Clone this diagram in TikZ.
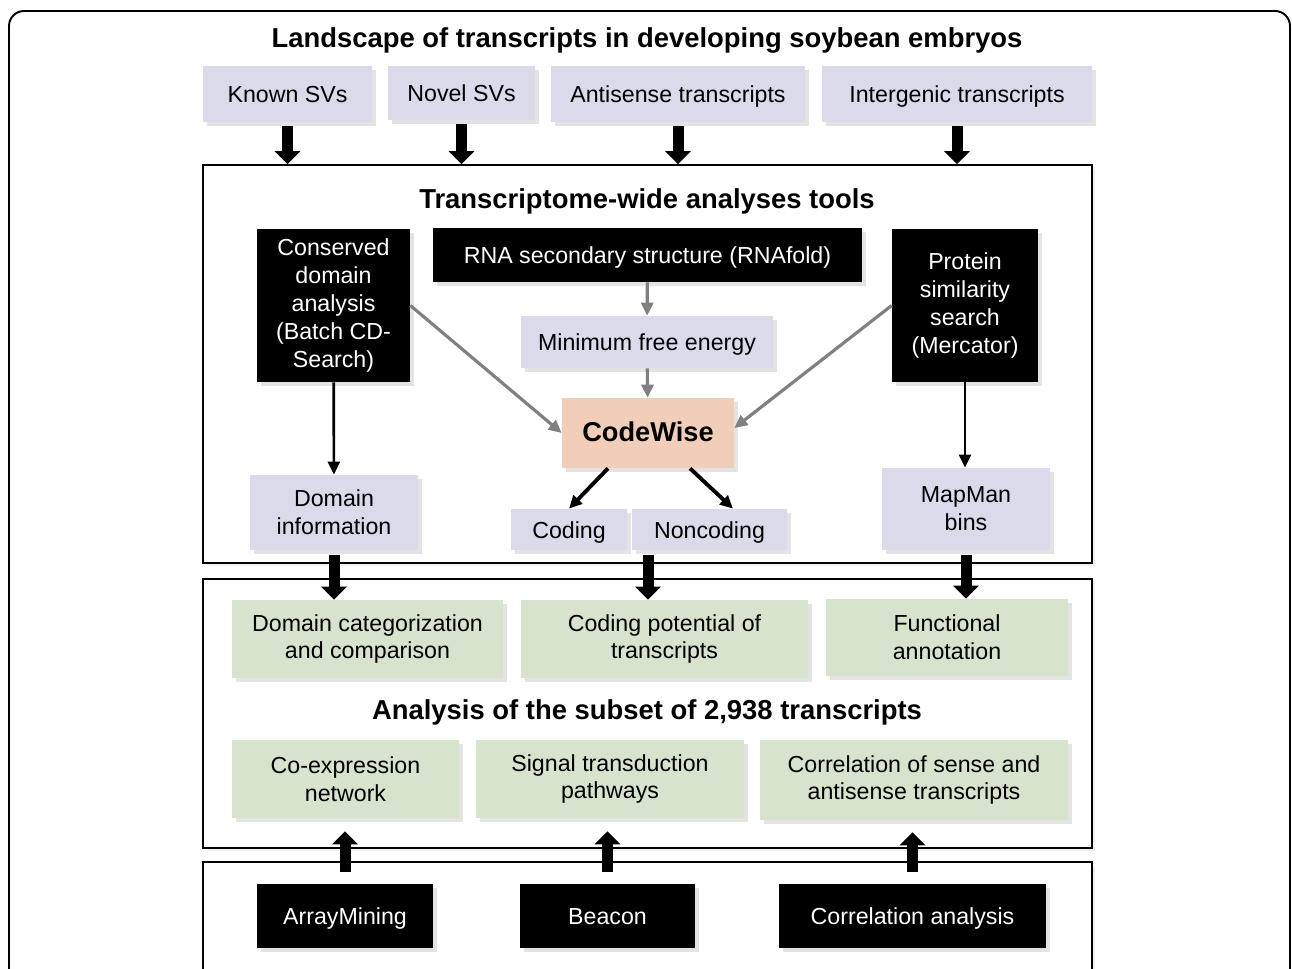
\documentclass[tikz,border=0pt]{standalone}
\usepackage{fontspec}
\setmainfont{Liberation Sans}
\usetikzlibrary{positioning, arrows.meta, shadows}

\definecolor{lavbox}{RGB}{218,218,234}
\definecolor{grnbox}{RGB}{215,227,204}
\definecolor{cwbox}{RGB}{241,206,186}
\definecolor{grayarrow}{RGB}{128,128,128}

\begin{document}
\begin{tikzpicture}[
  x=0.02cm, y=-0.02cm,
  font=\fontsize{13.2}{15.9}\selectfont,
  shade/.style ={drop shadow={shadow xshift=2.5pt, shadow yshift=-2.5pt, opacity=0.22}},
  lav/.style   ={fill=lavbox, align=center, inner sep=2pt, shade},
  grn/.style   ={fill=grnbox, align=center, inner sep=2pt, shade},
  tool/.style  ={fill=black, text=white, align=center, inner sep=2pt, shade},
  oneline/.style={text height=1.0em, text depth=0pt},
  panel/.style ={draw, fill=white, line width=1pt, minimum width=17.78cm,
                 drop shadow={shadow xshift=2pt, shadow yshift=-2pt, opacity=0.12}},
  head/.style  ={font=\fontsize{15.6}{18}\selectfont\bfseries},
  bigarr/.style={-{Triangle[width=0.5cm, length=0.26cm]}, line width=0.22cm},
  grayarr/.style={-{Triangle[width=0.24cm, length=0.26cm]}, line width=1.8pt, grayarrow},
  arr/.style   ={-{Triangle[width=0.24cm, length=0.26cm]}, line width=1.5pt},
]
\useasboundingbox (0,0) rectangle (1292,969);
\clip (0,0) rectangle (1292,969);

% ---- outer frame ----
\draw[line width=1.1pt, rounded corners=0.3cm] (9,11) rectangle (1290,1030);

% ---- landscape of transcripts ----
\node[head] (title) at (647,40) {Landscape of transcripts in developing soybean embryos};

\node[lav, oneline, minimum width=3.38cm, minimum height=1.12cm] (known) at (287.5,94) {Known SVs};
\node[lav, oneline, minimum width=2.94cm, minimum height=1.08cm] (novel) at (461.5,93) {Novel SVs};
\node[lav, oneline, minimum width=5.08cm, minimum height=1.12cm] (anti)  at (678,94)   {Antisense transcripts};
\node[lav, oneline, minimum width=5.40cm, minimum height=1.12cm] (inter) at (957,94)   {Intergenic transcripts};

% ---- three panels ----
\node[panel, minimum height=7.96cm] (panelA) at (647.5,364)   {};
\node[panel, minimum height=5.38cm] (panelB) at (647.5,713.5) {};
\node[panel, minimum height=3.60cm] (panelC) at (647.5,952)   {};

\draw[bigarr, shorten <=2pt] (known.south) -- (known.south |- panelA.north);
\draw[bigarr, shorten <=2pt] (novel.south) -- (novel.south |- panelA.north);
\draw[bigarr, shorten <=2pt] (anti.south)  -- (anti.south  |- panelA.north);
\draw[bigarr, shorten <=2pt] (inter.south) -- (inter.south |- panelA.north);

% ---- transcriptome-wide tools ----
\node[head] (titleA) at (647,201) {Transcriptome-wide analyses tools};

\node[tool, minimum width=3.06cm, minimum height=3.06cm] (cdd)  at (333.5,305.5)
  {Conserved\\domain\\analysis\\(Batch CD-\\Search)};
\node[tool, oneline, minimum width=8.58cm, minimum height=1.08cm] (rna)  at (647.5,255)
  {RNA secondary structure (RNAfold)};
\node[tool, minimum width=2.92cm, minimum height=3.06cm] (prot) at (965,305.5)
  {Protein\\similarity\\search\\(Mercator)};

\node[lav, oneline, minimum width=5.04cm, minimum height=1.04cm] (mfe) at (647,342) {Minimum free energy};
\node[fill=cwbox, shade, oneline, minimum width=3.44cm, minimum height=1.4cm,
      font=\fontsize{15.5}{18}\selectfont\bfseries] (codewise) at (648,433) {CodeWise};

\node[lav, minimum width=3.36cm, minimum height=1.50cm] (dominfo) at (334,512.5) {Domain\\information};
\node[lav, oneline, minimum width=2.32cm, minimum height=0.82cm] (coding)  at (569,529.5) {Coding};
\node[lav, oneline, minimum width=3.10cm, minimum height=0.82cm] (noncod)  at (709.5,529.5) {Noncoding};
\node[lav, minimum width=3.36cm, minimum height=1.64cm] (mapman)  at (966,509) {MapMan\\bins};

\draw[grayarr] (rna) -- (mfe);
\draw[grayarr] (mfe) -- (codewise);
\draw[grayarr] (cdd.east)  -- (codewise.west);
\draw[grayarr] (prot.west) -- ([yshift=0.1cm]codewise.east);
\draw[arr] (cdd)  -- (dominfo);
\draw[arr] (prot.south) -- (prot.south |- mapman.north);
\draw[arr, line width=2.2pt] ([xshift=-0.8cm]codewise.south) -- (coding.north);
\draw[arr, line width=2.2pt] ([xshift=0.84cm]codewise.south) -- ([xshift=0.47cm]noncod.north);

% ---- analysis of the subset ----
\node[grn, minimum width=5.42cm, minimum height=1.56cm] (domcat) at (367.5,639) {Domain categorization\\and comparison};
\node[grn, minimum width=5.74cm, minimum height=1.56cm] (codpot) at (664.5,639) {Coding potential of\\transcripts};
\node[grn, minimum width=4.84cm, minimum height=1.54cm] (func)   at (947,637.5) {Functional\\annotation};

\node[head] (titleB) at (647,712) {Analysis of the subset of 2,938 transcripts};

\node[grn, minimum width=4.54cm, minimum height=1.56cm] (coexp)  at (345.5,779) {Co-expression\\network};
\node[grn, minimum width=5.36cm, minimum height=1.56cm] (signal) at (610,779)   {Signal transduction\\pathways};
\node[grn, minimum width=6.16cm, minimum height=1.60cm] (corsa)  at (914,780)   {Correlation of sense and\\antisense transcripts};

\draw[bigarr, shorten <=0.1cm] (dominfo.south) -- (dominfo.south |- domcat.north);
\draw[bigarr, shorten <=0.1cm] (codewise.south |- coding.south) -- (codewise.south |- codpot.north);
\draw[bigarr, shorten <=0.1cm] (mapman.south) -- (mapman.south |- func.north);

% ---- tools for the subset ----
\node[tool, oneline, minimum width=3.52cm, minimum height=1.28cm] (arraym) at (345,916)   {ArrayMining};
\node[tool, oneline, minimum width=3.50cm, minimum height=1.28cm] (beacon) at (607.5,916) {Beacon};
\node[tool, oneline, minimum width=5.34cm, minimum height=1.28cm] (coran)  at (912.5,916) {Correlation analysis};

\draw[bigarr, shorten <=0.24cm, shorten >=0.26cm] (arraym.north) -- (arraym.north |- coexp.south);
\draw[bigarr, shorten <=0.24cm, shorten >=0.26cm] (beacon.north) -- (beacon.north |- signal.south);
\draw[bigarr, shorten <=0.24cm, shorten >=0.24cm] (coran.north)  -- (coran.north  |- corsa.south);

\end{tikzpicture}
\end{document}
